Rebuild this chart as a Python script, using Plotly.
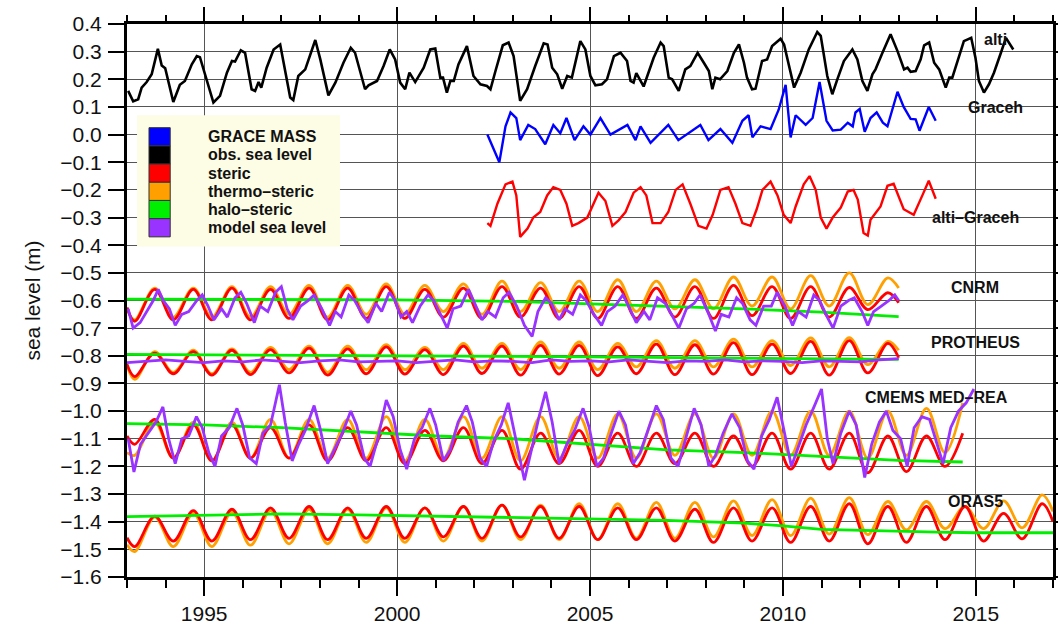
import plotly.graph_objects as go

# ---------------- observed series ----------------
alti_t = [1993.03, 1993.16, 1993.29, 1993.38, 1993.51, 1993.64, 1993.80, 1993.90, 1993.99, 1994.20,
          1994.37, 1994.50, 1994.68, 1994.81, 1994.89, 1995.24, 1995.41, 1995.59, 1995.72, 1995.80,
          1995.95, 1996.06, 1996.23, 1996.32, 1996.41, 1996.48, 1996.62, 1996.80, 1996.97, 1997.23,
          1997.31, 1997.44, 1997.62, 1997.88, 1998.01, 1998.22, 1998.40, 1998.61, 1998.80, 1998.91,
          1999.17, 1999.26, 1999.48, 1999.65, 1999.81, 1999.95, 2000.08, 2000.21, 2000.32, 2000.47,
          2000.69, 2000.86, 2000.99, 2001.12, 2001.19, 2001.29, 2001.38, 2001.47, 2001.59, 2001.81,
          2001.98, 2002.16, 2002.33, 2002.42, 2002.55, 2002.74, 2002.89, 2003.02, 2003.19, 2003.37,
          2003.58, 2003.80, 2003.90, 2004.02, 2004.15, 2004.28, 2004.41, 2004.53, 2004.75, 2004.88,
          2005.01, 2005.14, 2005.31, 2005.44, 2005.62, 2005.79, 2005.96, 2006.05, 2006.13, 2006.20,
          2006.39, 2006.52, 2006.65, 2006.83, 2006.91, 2007.04, 2007.13, 2007.30, 2007.47, 2007.60,
          2007.79, 2007.95, 2008.08, 2008.17, 2008.25, 2008.37, 2008.56, 2008.73, 2008.86, 2008.99,
          2009.07, 2009.20, 2009.29, 2009.46, 2009.59, 2009.72, 2009.94, 2010.03, 2010.16, 2010.29,
          2010.46, 2010.67, 2010.89, 2010.98, 2011.15, 2011.28, 2011.41, 2011.58, 2011.80, 2011.93,
          2012.06, 2012.19, 2012.32, 2012.40, 2012.58, 2012.79, 2012.97, 2013.14, 2013.23, 2013.31,
          2013.44, 2013.57, 2013.66, 2013.79, 2013.92, 2014.05, 2014.22, 2014.31, 2014.39, 2014.52,
          2014.69, 2014.88, 2014.99, 2015.08, 2015.21, 2015.34, 2015.47, 2015.65, 2015.78, 2015.97]
alti_v = [0.158, 0.120, 0.128, 0.170, 0.190, 0.218, 0.310, 0.250, 0.240, 0.118,
          0.180, 0.194, 0.254, 0.284, 0.280, 0.116, 0.140, 0.224, 0.266, 0.264,
          0.305, 0.296, 0.164, 0.158, 0.190, 0.170, 0.242, 0.308, 0.326, 0.134,
          0.125, 0.212, 0.236, 0.342, 0.272, 0.142, 0.188, 0.260, 0.314, 0.296,
          0.164, 0.178, 0.194, 0.248, 0.308, 0.272, 0.188, 0.164, 0.224, 0.190,
          0.242, 0.308, 0.311, 0.206, 0.206, 0.152, 0.194, 0.194, 0.254, 0.320,
          0.212, 0.182, 0.176, 0.164, 0.230, 0.323, 0.333, 0.284, 0.122, 0.164,
          0.248, 0.330, 0.326, 0.242, 0.218, 0.166, 0.212, 0.206, 0.338, 0.308,
          0.212, 0.178, 0.182, 0.200, 0.284, 0.296, 0.266, 0.194, 0.188, 0.222,
          0.174, 0.230, 0.278, 0.333, 0.320, 0.206, 0.200, 0.158, 0.236, 0.248,
          0.296, 0.260, 0.230, 0.164, 0.206, 0.200, 0.230, 0.296, 0.326, 0.260,
          0.206, 0.164, 0.166, 0.266, 0.272, 0.320, 0.347, 0.326, 0.248, 0.170,
          0.224, 0.308, 0.371, 0.357, 0.212, 0.146, 0.200, 0.266, 0.308, 0.272,
          0.194, 0.158, 0.218, 0.236, 0.296, 0.363, 0.302, 0.236, 0.242, 0.227,
          0.230, 0.272, 0.323, 0.333, 0.260, 0.236, 0.170, 0.206, 0.206, 0.266,
          0.338, 0.350, 0.278, 0.194, 0.152, 0.182, 0.224, 0.296, 0.350, 0.308]

graceh_t = [2002.34, 2002.55, 2002.65, 2002.81, 2002.94, 2003.09, 2003.19, 2003.40, 2003.58, 2003.84,
            2004.05, 2004.23, 2004.39, 2004.60, 2004.83, 2005.01, 2005.27, 2005.53, 2005.79, 2005.97,
            2006.18, 2006.31, 2006.57, 2006.83, 2007.03, 2007.29, 2007.60, 2007.86, 2008.07, 2008.38,
            2008.69, 2008.95, 2009.11, 2009.21, 2009.42, 2009.68, 2009.89, 2010.07, 2010.20, 2010.33,
            2010.59, 2010.77, 2010.95, 2011.13, 2011.29, 2011.50, 2011.68, 2011.81, 2011.88, 2011.99,
            2012.12, 2012.27, 2012.43, 2012.59, 2012.71, 2012.97, 2013.13, 2013.31, 2013.44, 2013.54,
            2013.78, 2013.96]
graceh_v = [0.000, -0.070, -0.100, 0.030, 0.080, 0.060, -0.020, 0.035, 0.020, -0.035,
            0.035, 0.005, 0.060, -0.020, 0.030, 0.000, 0.060, 0.000, 0.020, 0.035,
            -0.020, 0.030, -0.030, 0.005, 0.035, -0.020, 0.010, 0.035, -0.020, 0.020,
            -0.030, 0.050, 0.070, -0.010, 0.030, 0.020, 0.090, 0.180, -0.010, 0.070,
            0.035, 0.060, 0.190, 0.050, 0.015, 0.018, 0.043, 0.030, 0.080, 0.093,
            0.010, 0.060, 0.080, 0.043, 0.030, 0.155, 0.100, 0.057, 0.055, 0.014,
            0.100, 0.050]

altigr_t = [2002.34, 2002.42, 2002.60, 2002.81, 2002.99, 2003.09, 2003.19, 2003.38, 2003.53, 2003.71,
            2003.89, 2004.05, 2004.23, 2004.39, 2004.54, 2004.70, 2004.93, 2005.06, 2005.22, 2005.40,
            2005.58, 2005.74, 2005.92, 2006.13, 2006.31, 2006.46, 2006.62, 2006.83, 2007.03, 2007.22,
            2007.40, 2007.60, 2007.81, 2008.02, 2008.18, 2008.38, 2008.59, 2008.77, 2008.95, 2009.16,
            2009.32, 2009.47, 2009.68, 2009.86, 2010.02, 2010.20, 2010.33, 2010.54, 2010.69, 2010.85,
            2010.98, 2011.13, 2011.29, 2011.50, 2011.68, 2011.83, 2011.94, 2012.09, 2012.20, 2012.27,
            2012.53, 2012.71, 2012.87, 2013.13, 2013.39, 2013.62, 2013.78, 2013.96]
altigr_v = [-0.320, -0.330, -0.250, -0.180, -0.170, -0.220, -0.370, -0.340, -0.300, -0.280,
            -0.220, -0.190, -0.200, -0.250, -0.330, -0.320, -0.300, -0.260, -0.210, -0.240,
            -0.330, -0.310, -0.280, -0.210, -0.190, -0.220, -0.320, -0.320, -0.280, -0.200,
            -0.180, -0.250, -0.330, -0.340, -0.290, -0.200, -0.190, -0.250, -0.320, -0.330,
            -0.270, -0.200, -0.170, -0.220, -0.290, -0.320, -0.260, -0.180, -0.150, -0.200,
            -0.300, -0.340, -0.300, -0.264, -0.206, -0.200, -0.235, -0.356, -0.365, -0.308,
            -0.260, -0.185, -0.178, -0.270, -0.290, -0.218, -0.167, -0.232]

# ---------------- CNRM ----------------
cnrm_thermo_start, cnrm_thermo_end = -0.630, -0.555
cnrm_thermo_trough = [-0.670, -0.660, -0.660, -0.660, -0.650, -0.660, -0.650, -0.650, -0.640, -0.650,
                      -0.640, -0.640, -0.640, -0.640, -0.630, -0.630, -0.620, -0.630, -0.620, -0.615]
cnrm_thermo_peak = [-0.555, -0.555, -0.550, -0.550, -0.545, -0.545, -0.540, -0.545, -0.540, -0.530,
                    -0.535, -0.530, -0.525, -0.530, -0.525, -0.515, -0.515, -0.510, -0.500, -0.518]
cnrm_steric_start, cnrm_steric_end = -0.625, -0.608
cnrm_steric_trough = [-0.675, -0.670, -0.670, -0.670, -0.665, -0.670, -0.665, -0.665, -0.660, -0.665,
                      -0.660, -0.665, -0.665, -0.665, -0.660, -0.665, -0.655, -0.665, -0.660, -0.633]
cnrm_steric_peak = [-0.560, -0.560, -0.555, -0.560, -0.555, -0.555, -0.550, -0.560, -0.555, -0.550,
                    -0.555, -0.550, -0.550, -0.555, -0.550, -0.545, -0.550, -0.550, -0.553, -0.572]
cnrm_halo_t = [1993.0, 1996.0, 2000.0, 2003.0, 2005.0, 2007.0, 2009.0, 2011.0, 2012.5, 2013.0]
cnrm_halo_v = [-0.595, -0.596, -0.598, -0.603, -0.612, -0.620, -0.630, -0.642, -0.652, -0.658]
cnrm_model_t = [1993.03, 1993.16, 1993.34, 1993.55, 1993.68, 1993.81, 1993.94, 1994.10, 1994.25, 1994.42,
                1994.60, 1994.81, 1994.95, 1995.10, 1995.25, 1995.45, 1995.60, 1995.80, 1995.95, 1996.10,
                1996.30, 1996.45, 1996.65, 1996.85, 1997.00, 1997.15, 1997.30, 1997.50, 1997.70, 1997.85,
                1998.05, 1998.25, 1998.40, 1998.55, 1998.75, 1998.90, 1999.10, 1999.25, 1999.45, 1999.60,
                1999.80, 1999.95, 2000.10, 2000.25, 2000.40, 2000.60, 2000.80, 2000.95, 2001.15, 2001.30,
                2001.45, 2001.65, 2001.85, 2002.00, 2002.20, 2002.35, 2002.55, 2002.75, 2002.90, 2003.10,
                2003.30, 2003.50, 2003.65, 2003.85, 2004.00, 2004.20, 2004.35, 2004.55, 2004.75, 2004.90,
                2005.10, 2005.30, 2005.45, 2005.65, 2005.85, 2006.00, 2006.20, 2006.40, 2006.55, 2006.75,
                2006.95, 2007.15, 2007.30, 2007.50, 2007.70, 2007.85, 2008.05, 2008.25, 2008.40, 2008.60,
                2008.80, 2008.95, 2009.15, 2009.30, 2009.50, 2009.70, 2009.85, 2010.05, 2010.25, 2010.40,
                2010.60, 2010.80, 2010.95, 2011.15, 2011.30, 2011.50, 2011.70, 2011.85, 2012.05, 2012.20,
                2012.35, 2012.55, 2012.75, 2012.90, 2013.00]
cnrm_model_v = [-0.63, -0.70, -0.68, -0.63, -0.60, -0.56, -0.60, -0.63, -0.69, -0.65,
                -0.64, -0.60, -0.58, -0.62, -0.67, -0.63, -0.66, -0.59, -0.57, -0.61,
                -0.68, -0.62, -0.64, -0.57, -0.55, -0.63, -0.67, -0.62, -0.60, -0.58,
                -0.63, -0.69, -0.64, -0.66, -0.58, -0.60, -0.65, -0.68, -0.61, -0.64,
                -0.57, -0.60, -0.66, -0.64, -0.68, -0.62, -0.58, -0.60, -0.66, -0.70,
                -0.63, -0.62, -0.56, -0.61, -0.67, -0.64, -0.66, -0.59, -0.57, -0.62,
                -0.69, -0.73, -0.64, -0.59, -0.61, -0.67, -0.63, -0.65, -0.58, -0.60,
                -0.65, -0.69, -0.64, -0.62, -0.58, -0.62, -0.68, -0.64, -0.67, -0.59,
                -0.61, -0.66, -0.70, -0.63, -0.61, -0.58, -0.64, -0.71, -0.65, -0.66,
                -0.59, -0.61, -0.67, -0.69, -0.62, -0.62, -0.57, -0.62, -0.69, -0.64,
                -0.66, -0.58, -0.60, -0.66, -0.70, -0.62, -0.60, -0.59, -0.64, -0.69,
                -0.64, -0.62, -0.60, -0.58, -0.60]

# ---------------- PROTHEUS ----------------
proth_thermo_start, proth_thermo_end = -0.835, -0.780
proth_thermo_trough = [-0.885, -0.860, -0.865, -0.860, -0.850, -0.860, -0.850, -0.850, -0.850, -0.845,
                       -0.850, -0.845, -0.850, -0.840, -0.845, -0.840, -0.840, -0.835, -0.840, -0.832]
proth_thermo_peak = [-0.785, -0.780, -0.775, -0.770, -0.765, -0.765, -0.760, -0.770, -0.755, -0.755,
                     -0.750, -0.750, -0.755, -0.745, -0.745, -0.740, -0.745, -0.735, -0.734, -0.748]
proth_steric_start, proth_steric_end = -0.830, -0.807
proth_steric_trough = [-0.875, -0.865, -0.870, -0.868, -0.862, -0.870, -0.865, -0.866, -0.868, -0.864,
                       -0.870, -0.866, -0.872, -0.865, -0.868, -0.866, -0.868, -0.864, -0.870, -0.862]
proth_steric_peak = [-0.790, -0.785, -0.780, -0.778, -0.772, -0.775, -0.768, -0.778, -0.765, -0.765,
                     -0.762, -0.762, -0.768, -0.758, -0.760, -0.752, -0.758, -0.748, -0.745, -0.755]
proth_halo_t = [1993.0, 1995.0, 1997.0, 1999.0, 2001.0, 2003.0, 2005.0, 2007.0, 2009.0, 2011.0, 2013.0]
proth_halo_v = [-0.795, -0.796, -0.797, -0.798, -0.800, -0.802, -0.804, -0.806, -0.808, -0.810, -0.813]
proth_model_t = [1993.0 + 0.5 * k for k in range(41)]
proth_model_v = [-0.825, -0.820, -0.815, -0.820, -0.825, -0.818, -0.822, -0.815, -0.820, -0.825,
                 -0.818, -0.815, -0.822, -0.820, -0.818, -0.825, -0.820, -0.815, -0.822, -0.818,
                 -0.820, -0.825, -0.815, -0.820, -0.818, -0.822, -0.815, -0.820, -0.825, -0.818,
                 -0.820, -0.815, -0.822, -0.818, -0.820, -0.825, -0.818, -0.820, -0.822, -0.815,
                 -0.810]

# ---------------- CMEMS MED-REA ----------------
cmems_thermo_start, cmems_thermo_end = -1.150, -0.970
cmems_thermo_trough = [-1.16, -1.17, -1.18, -1.17, -1.17, -1.17, -1.17, -1.18, -1.17, -1.17, -1.18,
                       -1.17, -1.17, -1.17, -1.16, -1.17, -1.16, -1.16, -1.16, -1.17, -1.16, -1.15]
cmems_thermo_peak = [-1.04, -1.04, -1.04, -1.03, -1.03, -1.03, -1.02, -1.03, -1.02, -1.02, -1.02,
                     -1.02, -1.01, -1.01, -1.01, -1.01, -1.00, -1.00, -1.00, -1.00, -0.99]
cmems_steric_start, cmems_steric_end = -1.090, -1.080
cmems_steric_trough = [-1.12, -1.17, -1.18, -1.17, -1.17, -1.18, -1.18, -1.19, -1.18, -1.19, -1.21,
                       -1.19, -1.20, -1.20, -1.19, -1.20, -1.20, -1.21, -1.21, -1.223, -1.219, -1.20]
cmems_steric_peak = [-1.03, -1.05, -1.05, -1.06, -1.05, -1.06, -1.06, -1.07, -1.06, -1.07, -1.08,
                     -1.07, -1.08, -1.08, -1.08, -1.09, -1.08, -1.08, -1.08, -1.09, -1.09]
cmems_halo_t = [1993.0, 1995.0, 1997.0, 1999.0, 2001.0, 2003.0, 2005.0, 2007.0, 2009.0, 2011.0, 2013.0, 2014.66]
cmems_halo_v = [-1.045, -1.050, -1.060, -1.075, -1.090, -1.100, -1.120, -1.140, -1.150, -1.165, -1.178, -1.184]
cmems_model_t = [1993.03, 1993.18, 1993.35, 1993.55, 1993.75, 1993.93, 1994.08, 1994.25, 1994.42, 1994.60,
                 1994.80, 1994.95, 1995.12, 1995.28, 1995.45, 1995.65, 1995.85, 1996.00, 1996.18, 1996.35,
                 1996.52, 1996.72, 1996.95, 1997.10, 1997.28, 1997.45, 1997.62, 1997.85, 1998.00, 1998.20,
                 1998.38, 1998.58, 1998.80, 1998.95, 1999.15, 1999.30, 1999.50, 1999.72, 1999.90, 2000.08,
                 2000.25, 2000.45, 2000.65, 2000.85, 2001.00, 2001.20, 2001.38, 2001.58, 2001.80, 2001.95,
                 2002.15, 2002.32, 2002.50, 2002.70, 2002.88, 2003.05, 2003.30, 2003.50, 2003.68, 2003.85,
                 2004.02, 2004.20, 2004.40, 2004.60, 2004.82, 2004.98, 2005.18, 2005.35, 2005.55, 2005.75,
                 2005.92, 2006.12, 2006.30, 2006.50, 2006.72, 2006.90, 2007.10, 2007.28, 2007.48, 2007.70,
                 2007.88, 2008.08, 2008.25, 2008.45, 2008.68, 2008.88, 2009.08, 2009.25, 2009.45, 2009.65,
                 2009.85, 2010.02, 2010.22, 2010.40, 2010.60, 2010.82, 2011.00, 2011.15, 2011.30, 2011.50,
                 2011.72, 2011.90, 2012.12, 2012.30, 2012.50, 2012.68, 2012.85, 2013.05, 2013.22, 2013.40,
                 2013.60, 2013.80, 2014.00, 2014.15, 2014.35, 2014.55, 2014.75, 2014.95]
cmems_model_v = [-1.10, -1.22, -1.12, -1.08, -1.04, -0.985, -1.10, -1.19, -1.10, -1.09,
                 -1.02, -1.06, -1.15, -1.20, -1.09, -1.06, -0.99, -1.05, -1.17, -1.19,
                 -1.08, -1.05, -0.905, -1.04, -1.18, -1.12, -1.07, -0.98, -1.06, -1.19,
                 -1.14, -1.08, -1.00, -1.05, -1.17, -1.20, -1.10, -0.96, -1.02, -1.14,
                 -1.21, -1.10, -1.06, -0.99, -1.05, -1.18, -1.14, -1.04, -0.98, -1.04,
                 -1.17, -1.20, -1.11, -1.05, -0.97, -1.08, -1.25, -1.13, -1.02, -0.93,
                 -1.04, -1.19, -1.12, -1.07, -0.99, -1.06, -1.20, -1.17, -1.08, -1.00,
                 -1.05, -1.19, -1.15, -1.07, -0.98, -1.03, -1.17, -1.20, -1.10, -0.99,
                 -1.05, -1.20, -1.16, -1.08, -1.01, -1.06, -1.18, -1.21, -1.09, -1.03,
                 -0.95, -1.07, -1.20, -1.13, -1.05, -0.98, -0.92, -1.10, -1.19, -1.08,
                 -1.00, -1.05, -1.24, -1.12, -1.04, -1.00, -1.07, -1.10, -1.20, -1.06,
                 -1.02, -1.03, -1.12, -1.19, -1.06, -1.00, -0.97, -0.92]

# ---------------- ORAS5 ----------------
oras_thermo_start, oras_thermo_end = -1.483, -1.363
oras_thermo_trough = [-1.508, -1.490, -1.490, -1.485, -1.480, -1.480, -1.475, -1.475, -1.470, -1.470,
                      -1.465, -1.465, -1.465, -1.460, -1.460, -1.455, -1.450, -1.450, -1.445, -1.447,
                      -1.430, -1.425, -1.425, -1.422]
oras_thermo_peak = [-1.383, -1.370, -1.365, -1.360, -1.355, -1.355, -1.350, -1.350, -1.345, -1.340,
                    -1.340, -1.335, -1.335, -1.330, -1.330, -1.325, -1.320, -1.315, -1.313, -1.327,
                    -1.327, -1.345, -1.325, -1.303]
oras_steric_start, oras_steric_end = -1.458, -1.400
oras_steric_trough = [-1.490, -1.470, -1.470, -1.465, -1.460, -1.465, -1.460, -1.460, -1.455, -1.460,
                      -1.455, -1.460, -1.465, -1.465, -1.470, -1.475, -1.470, -1.475, -1.470, -1.480,
                      -1.475, -1.465, -1.470, -1.462]
oras_steric_peak = [-1.380, -1.360, -1.355, -1.350, -1.345, -1.350, -1.345, -1.350, -1.345, -1.340,
                    -1.345, -1.345, -1.350, -1.350, -1.355, -1.350, -1.350, -1.345, -1.335, -1.345,
                    -1.345, -1.345, -1.370, -1.335]
oras_halo_t = [1993.0, 1995.0, 1997.0, 1999.0, 2001.0, 2003.0, 2005.0, 2007.0, 2009.0, 2010.0,
               2011.0, 2012.0, 2013.0, 2014.0, 2015.0, 2016.0, 2017.0]
oras_halo_v = [-1.382, -1.378, -1.372, -1.375, -1.380, -1.385, -1.390, -1.395, -1.405, -1.415,
               -1.428, -1.432, -1.435, -1.438, -1.440, -1.440, -1.440]

# ---------------- axes, legend and labels ----------------
year_ticks = [1995, 2000, 2005, 2010, 2015]
level_ticks = [0.4, 0.3, 0.2, 0.1, 0.0, -0.1, -0.2, -0.3, -0.4, -0.5, -0.6, -0.7, -0.8, -0.9, -1.0,
               -1.1, -1.2, -1.3, -1.4, -1.5, -1.6]
level_tick_text = ["0.4", "0.3", "0.2", "0.1", "0.0", "−0.1", "−0.2", "−0.3", "−0.4", "−0.5", "−0.6",
                   "−0.7", "−0.8", "−0.9", "−1.0", "−1.1", "−1.2", "−1.3", "−1.4", "−1.5", "−1.6"]
legend_names = ["GRACE MASS", "obs. sea level", "steric", "thermo–steric", "halo–steric", "model sea level"]
legend_colors = ["#0000ff", "#000000", "#ff0000", "#ffa000", "#00ee00", "#9933ff"]
group_labels = ["alti", "Graceh", "alti–Graceh", "CNRM", "PROTHEUS", "CMEMS MED–REA", "ORAS5"]

BLUE, BLACK, RED, ORANGE, GREEN, PURPLE = legend_colors
FONT = "Liberation Sans"
INK = "#111111"


def seasonal(start_val, troughs, peaks, end_val, t_end, first_year=1993):
    """Interleave spring troughs and autumn crests into one time series."""
    t, v = [float(first_year)], [start_val]
    for i, tr in enumerate(troughs):
        t.append(first_year + i + 0.2)
        v.append(tr)
        if i < len(peaks) and first_year + i + 0.72 < t_end:
            t.append(first_year + i + 0.72)
            v.append(peaks[i])
    t.append(t_end)
    v.append(end_val)
    return t, v


fig = go.Figure()


def add_line(t, v, color, width=2.6, spline=False):
    fig.add_trace(go.Scatter(
        x=t, y=v, mode="lines", showlegend=False, hoverinfo="skip",
        line=dict(color=color, width=width, shape="spline" if spline else "linear", smoothing=1.0),
    ))


# observations
add_line(alti_t, alti_v, BLACK, 2.6)
add_line(graceh_t, graceh_v, BLUE, 2.4)
add_line(altigr_t, altigr_v, RED, 2.4)

# model groups: thermo-steric, steric, halo-steric, model sea level
groups = [
    ((cnrm_thermo_start, cnrm_thermo_trough, cnrm_thermo_peak, cnrm_thermo_end, 2013.0),
     (cnrm_steric_start, cnrm_steric_trough, cnrm_steric_peak, cnrm_steric_end, 2013.0),
     (cnrm_halo_t, cnrm_halo_v), (cnrm_model_t, cnrm_model_v)),
    ((proth_thermo_start, proth_thermo_trough, proth_thermo_peak, proth_thermo_end, 2013.0),
     (proth_steric_start, proth_steric_trough, proth_steric_peak, proth_steric_end, 2013.0),
     (proth_halo_t, proth_halo_v), (proth_model_t, proth_model_v)),
    ((cmems_thermo_start, cmems_thermo_trough, cmems_thermo_peak, cmems_thermo_end, 2014.66),
     (cmems_steric_start, cmems_steric_trough, cmems_steric_peak, cmems_steric_end, 2014.66),
     (cmems_halo_t, cmems_halo_v), (cmems_model_t, cmems_model_v)),
    ((oras_thermo_start, oras_thermo_trough, oras_thermo_peak, oras_thermo_end, 2017.0),
     (oras_steric_start, oras_steric_trough, oras_steric_peak, oras_steric_end, 2017.0),
     (oras_halo_t, oras_halo_v), None),
]
for thermo, steric, halo, model in groups:
    add_line(*seasonal(*thermo), ORANGE, 2.8, spline=True)
    add_line(*seasonal(*steric), RED, 2.8, spline=True)
    add_line(*halo, GREEN, 2.8)
    if model is not None:
        add_line(*model, PURPLE, 2.8)

# empty trace that carries the top tick axis
fig.add_trace(go.Scatter(x=[], y=[], xaxis="x2", showlegend=False, hoverinfo="skip"))

# legend box drawn in data space
shapes = [dict(type="rect", xref="x", yref="y", x0=1993.26, x1=1998.52, y0=-0.405, y1=0.070,
               fillcolor="#fdfce4", line=dict(width=0), layer="above")]
row_h = 0.0658
top = 0.025
annotations = []
for i, (name, col) in enumerate(zip(legend_names, legend_colors)):
    y1 = top - i * row_h
    shapes.append(dict(type="rect", xref="x", yref="y", x0=1993.57, x1=1994.12, y0=y1 - row_h, y1=y1,
                       fillcolor=col, line=dict(color="#333333", width=1), layer="above"))
    annotations.append(dict(x=1995.05, y=y1 - row_h / 2, xref="x", yref="y", text=name, showarrow=False,
                            xanchor="left", yanchor="middle",
                            font=dict(family=FONT, size=16, color=INK, weight="bold")))

label_pos = [(2015.50, 0.343), (2015.50, 0.097), (2014.98, -0.300), (2014.98, -0.553),
             (2014.98, -0.752), (2013.97, -0.951), (2015.00, -1.328)]
for text, (lx, ly) in zip(group_labels, label_pos):
    annotations.append(dict(x=lx, y=ly, xref="x", yref="y", text=text, showarrow=False,
                            xanchor="center", yanchor="middle",
                            font=dict(family=FONT, size=16, color=INK, weight="bold")))

fig.update_layout(
    width=1058, height=631,
    margin=dict(l=127, r=5, t=24, b=54),
    paper_bgcolor="white", plot_bgcolor="white",
    font=dict(family=FONT, color=INK),
    shapes=shapes, annotations=annotations,
    showlegend=False,
    xaxis=dict(
        range=[1993, 2017], tickvals=year_ticks, automargin=False,
        showgrid=True, gridcolor="#555555", gridwidth=1,
        showline=True, linecolor="black", linewidth=3, mirror=True,
        ticks="outside", ticklen=16, tickwidth=1.5, tickcolor="black",
        tickfont=dict(size=21, family=FONT, color=INK),
        minor=dict(dtick=1, ticks="outside", ticklen=8, tickwidth=1.5, tickcolor="black", showgrid=False),
        zeroline=False,
    ),
    xaxis2=dict(
        overlaying="x", side="top", range=[1993, 2017], tickvals=year_ticks, automargin=False,
        showticklabels=False, showgrid=False, showline=False, zeroline=False,
        ticks="outside", ticklen=16, tickwidth=1.5, tickcolor="black",
        minor=dict(dtick=1, ticks="outside", ticklen=8, tickwidth=1.5, tickcolor="black", showgrid=False),
    ),
    yaxis=dict(
        range=[-1.6, 0.4], tickvals=level_ticks, ticktext=level_tick_text, automargin=False,
        showgrid=True, gridcolor="#555555", gridwidth=1,
        showline=True, linecolor="black", linewidth=3, mirror="ticks",
        ticks="outside", ticklen=16, tickwidth=1.5, tickcolor="black",
        tickfont=dict(size=21, family=FONT, color=INK), ticklabelstandoff=2,
        title=dict(text="sea level (m)", font=dict(size=21, family=FONT, color=INK), standoff=14),
        zeroline=False,
    ),
)

fig.write_html("out.html")
